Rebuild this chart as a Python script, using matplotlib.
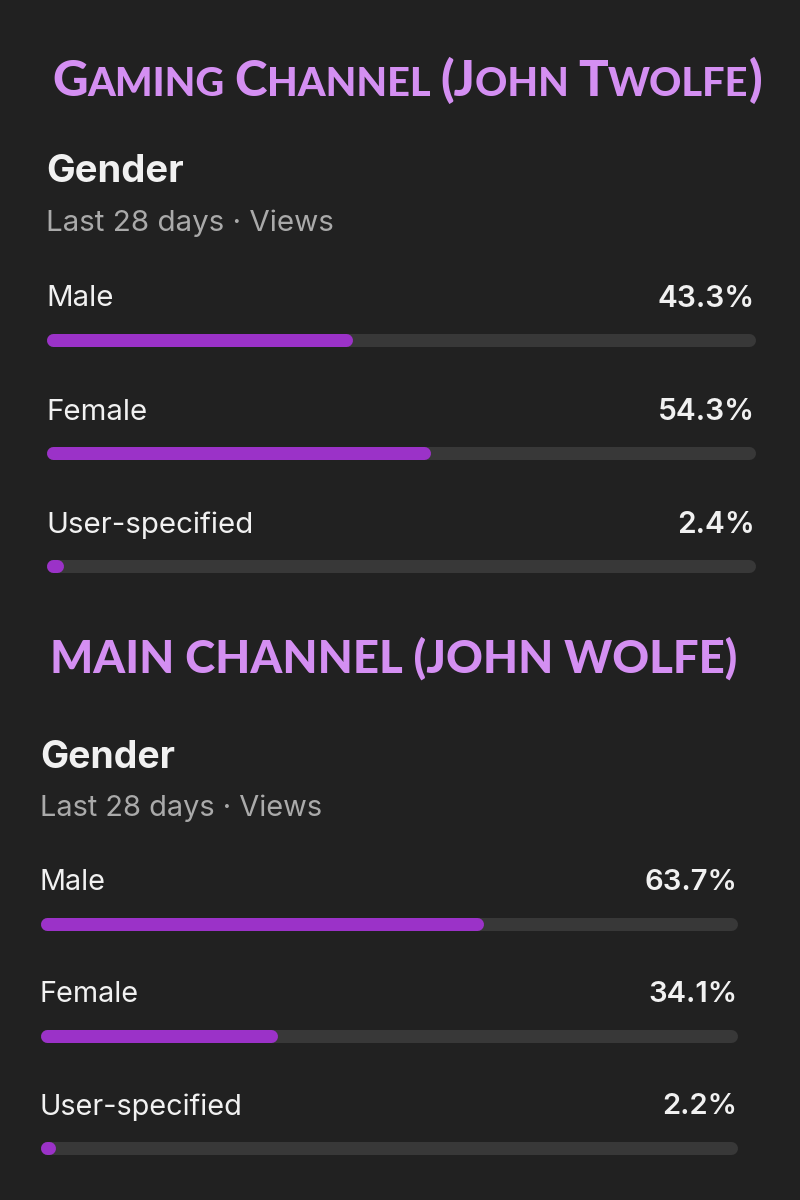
import matplotlib
matplotlib.use("Agg")
import matplotlib.pyplot as plt

categories = ["Male", "Female", "User-specified"]
gaming_pct = [43.3, 54.3, 2.4]
main_pct = [63.7, 34.1, 2.2]
titles = ["Gaming Channel (John Twolfe)", "MAIN CHANNEL (JOHN WOLFE)"]
header = "Gender"
subtitle = "Last 28 days \u00b7 Views"

BG = "#212121"
TRACK = "#383838"
FILL = "#9b32c8"
TITLE_C = "#d48ff2"
WHITE = "#f1f1f1"
GRAY = "#aaaaaa"
UI_FONT = ["Inter", "DejaVu Sans"]
TITLE_FONT = ["Lato", "DejaVu Sans"]

fig = plt.figure(figsize=(8, 12), dpi=100)
fig.patch.set_facecolor(BG)
ax = fig.add_axes([0, 0, 1, 1])
ax.set_facecolor(BG)
ax.set_xlim(0, 800)
ax.set_ylim(1200, 0)
ax.axis("off")
renderer = fig.canvas.get_renderer()


def smallcaps(x, y, text, big, small):
    # split into runs: originally-uppercase chars big, lowercase small
    runs = []
    for ch in text:
        is_big = not ch.islower() and ch != " "
        if ch == " " and runs:
            is_big = runs[-1][1]
        if runs and runs[-1][1] == is_big:
            runs[-1][0] += ch
        else:
            runs.append([ch, is_big])
    arts = []
    for s, is_big in runs:
        t = ax.text(x, y, s.upper(), fontsize=big if is_big else small,
                    color=TITLE_C, family=TITLE_FONT, weight="black",
                    ha="left", va="baseline")
        arts.append(t)
        bb = t.get_window_extent(renderer)
        x = ax.transData.inverted().transform((bb.x1, bb.y0))[0]
    return arts, x


def fitted_title(x0, x1, y, text, big, small):
    arts, end = smallcaps(x0, y, text, big, small)
    k = (x1 - x0) / (end - x0)
    for a in arts:
        a.remove()
    smallcaps(x0, y, text, big * k, small * k)


def panel(title, title_ext, big, small, x0, x1, head_y, sub_y, lab_y, step,
          vals, s=1.0):
    fitted_title(title_ext[0], title_ext[1], title_ext[2], title, big, small)
    ax.text(x0, head_y, header, fontsize=27.5 * s, weight="bold", color=WHITE,
            family=UI_FONT, va="center", ha="left")
    ax.text(x0, sub_y, subtitle, fontsize=21.3 * s, color=GRAY,
            family=UI_FONT, va="center", ha="left")
    r = 6.5
    lw = 13 * 72 / 100
    for i, (cat, v) in enumerate(zip(categories, vals)):
        ly = lab_y + i * step
        by = ly + 43
        ax.text(x0, ly + 2, cat, fontsize=21.2 * s, color=WHITE,
                family=UI_FONT, va="center", ha="left")
        ax.text(x1, ly + 2, f"{v:.1f}%", fontsize=21.5 * s, color=WHITE,
                weight="semibold", family=UI_FONT, va="center", ha="right")
        ax.plot([x0 + r, x1 - r], [by, by], color=TRACK, lw=lw,
                solid_capstyle="round")
        end = x0 + (x1 - x0) * v / 100
        ax.plot([x0 + r, max(end - r, x0 + r + 0.5)], [by, by], color=FILL,
                lw=lw, solid_capstyle="round")


panel(titles[0], (52, 762, 96), 31, 25, 46, 755, 172, 223, 297, 113,
      gaming_pct)
panel(titles[1], (50, 737, 673), 33, 33, 40, 737, 758, 808, 881, 112,
      main_pct, s=0.98)

fig.savefig("out.png", dpi=100, facecolor=BG)
